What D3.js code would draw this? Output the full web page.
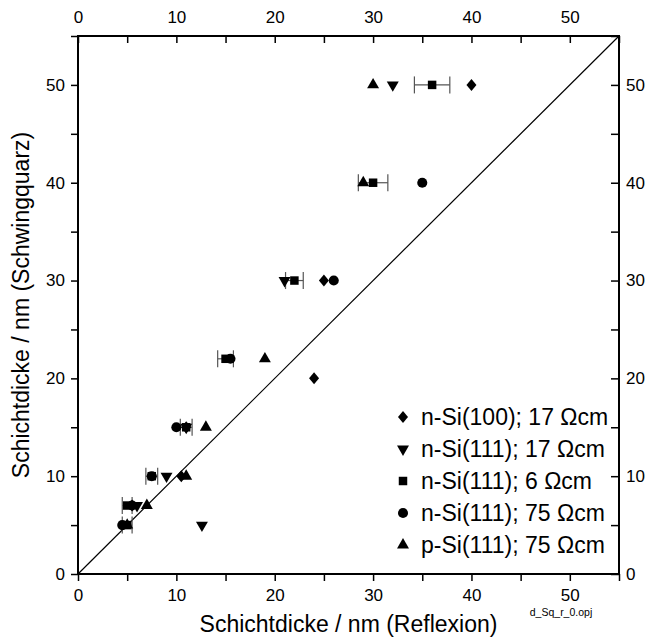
<!DOCTYPE html>
<html>
<head>
<meta charset="utf-8">
<script src="https://cdn.jsdelivr.net/npm/d3@7"></script>
<style>
    body { margin: 0; background: #fff; }
    text { font-family: "Liberation Sans", Arial, sans-serif; fill: #000; }
</style>
</head>
<body>
<svg id="svgSchicht" width="648" height="641"></svg>
<script>

    // x = Reflexion, y = Schwingquarz (nm)
    var diamondX = [40, 25, 24, 11, 10.5, 5.5]
    var diamondY = [50, 30, 20, 15, 10, 7]

    var downX = [32, 21, 11, 9, 6, 12.6]
    var downY = [50, 30, 15, 10, 7, 5]

    var squareX = [36, 30, 22, 15, 11, 7.5, 5, 5]
    var squareY = [50, 40, 30, 22, 15, 10, 7, 5]
    var squareErr = [1.8, 1.5, 0.9, 0.8, 0.6, 0.6, 0.5, 0.5]

    var circleX = [35, 26, 15.5, 10, 7.5, 5.5, 4.5]
    var circleY = [40, 30, 22, 15, 10, 7, 5]

    var upX = [30, 29, 19, 13, 11, 7, 5]
    var upY = [50, 40, 22, 15, 10, 7, 5]

    var legendLabels = ["n-Si(100); 17 \u03A9cm", "n-Si(111); 17 \u03A9cm", "n-Si(111); 6 \u03A9cm",
        "n-Si(111); 75 \u03A9cm", "p-Si(111); 75 \u03A9cm"]

    var tickLabels = [0, 10, 20, 30, 40, 50]
    var tickMarks = d3.range(0, 56, 5)

    var margin = { top: 36, left: 78, bottom: 67, right: 29 }
    var svgWidth = 648
    var svgHeight = 641
    var width = svgWidth - margin.left - margin.right
    var height = svgHeight - margin.top - margin.bottom

    const svg = d3.select("#svgSchicht")

    const X_scale = d3.scaleLinear().domain([0, 55]).range([margin.left, margin.left + width])
    const Y_scale = d3.scaleLinear().domain([0, 55]).range([margin.top + height, margin.top])

    var axisStyle = (g) => {
        g.select(".domain").remove()
        g.selectAll(".tick line").attr("stroke", "#000").attr("stroke-width", 1.5)
        g.selectAll(".tick text").style("font-size", "17px")
    }
    var fmt = (d) => tickLabels.includes(d) ? d : ""

    svg.append("g").attr("transform", `translate(0,${Y_scale(0)})`)
        .call(d3.axisBottom(X_scale).tickValues(tickMarks).tickFormat(fmt).tickSize(7).tickPadding(8))
        .call(axisStyle)
    svg.append("g").attr("transform", `translate(0,${Y_scale(55)})`)
        .call(d3.axisTop(X_scale).tickValues(tickMarks).tickFormat(fmt).tickSize(-7).tickPadding(13))
        .call(axisStyle)
    svg.append("g").attr("transform", `translate(${X_scale(0)},0)`)
        .call(d3.axisLeft(Y_scale).tickValues(tickMarks).tickFormat(fmt).tickSize(7).tickPadding(6))
        .call(axisStyle)
    svg.append("g").attr("transform", `translate(${X_scale(55)},0)`)
        .call(d3.axisRight(Y_scale).tickValues(tickMarks).tickFormat(fmt).tickSize(-8).tickPadding(7))
        .call(axisStyle)

    // frame
    svg.append("rect")
        .attr("x", X_scale(0)).attr("y", Y_scale(55))
        .attr("width", X_scale(55) - X_scale(0)).attr("height", Y_scale(0) - Y_scale(55))
        .attr("fill", "none").attr("stroke", "#000").attr("stroke-width", 2)

    // y = x
    svg.append("line")
        .attr("x1", X_scale(0)).attr("y1", Y_scale(0))
        .attr("x2", X_scale(55)).attr("y2", Y_scale(55))
        .attr("stroke", "#000").attr("stroke-width", 1.2)

    // error bars of the 6 Ohm cm series
    var errG = svg.append("g").attr("stroke", "#555").attr("stroke-width", 1.2)
    squareX.forEach((x, i) => {
        var y = Y_scale(squareY[i])
        var x0 = X_scale(x - squareErr[i]), x1 = X_scale(x + squareErr[i])
        errG.append("line").attr("x1", x0).attr("x2", x1).attr("y1", y).attr("y2", y)
        errG.append("line").attr("x1", x0).attr("x2", x0).attr("y1", y - 8.5).attr("y2", y + 8.5)
        errG.append("line").attr("x1", x1).attr("x2", x1).attr("y1", y - 8.5).attr("y2", y + 8.5)
    })

    // Origin-style diamond: a bit taller than wide
    var originDiamond = {
        draw: function (ctx, size) {
            var w = 5, h = 6
            ctx.moveTo(0, -h); ctx.lineTo(w, 0); ctx.lineTo(0, h); ctx.lineTo(-w, 0); ctx.closePath()
        }
    }

    var sym = {
        diamond: d3.symbol().type(originDiamond).size(1),
        down: d3.symbol().type(d3.symbolTriangle).size(62),
        square: d3.symbol().type(d3.symbolSquare).size(72),
        circle: d3.symbol().type(d3.symbolCircle).size(80),
        up: d3.symbol().type(d3.symbolTriangle).size(62)
    }

    var series = [
        { key: "diamond", xs: diamondX, ys: diamondY, rot: 0 },
        { key: "down", xs: downX, ys: downY, rot: 180 },
        { key: "square", xs: squareX, ys: squareY, rot: 0 },
        { key: "circle", xs: circleX, ys: circleY, rot: 0 },
        { key: "up", xs: upX, ys: upY, rot: 0 }
    ]

    series.forEach((s) => {
        svg.append("g").selectAll("path")
            .data(s.xs.map((x, i) => [x, s.ys[i]]))
            .join("path")
            .attr("d", sym[s.key])
            .attr("fill", "#000")
            .attr("transform", (d) => `translate(${X_scale(d[0])},${Y_scale(d[1])}) rotate(${s.rot})`)
    })

    // legend
    var legend = svg.append("g")
    series.forEach((s, i) => {
        var ly = 417 + i * 32
        legend.append("path").attr("d", sym[s.key]).attr("fill", "#000")
            .attr("transform", `translate(403,${ly}) rotate(${s.rot})`)
        legend.append("text").attr("x", 421).attr("y", ly).attr("dy", "0.36em")
            .style("font-size", "23px").text(legendLabels[i])
    })

    // axis titles
    svg.append("text")
        .attr("x", X_scale(27.5)).attr("y", 632)
        .attr("text-anchor", "middle").style("font-size", "23px")
        .text("Schichtdicke / nm (Reflexion)")
    svg.append("text")
        .attr("transform", `translate(29,${Y_scale(27.5)}) rotate(-90)`)
        .attr("text-anchor", "middle").style("font-size", "23px")
        .text("Schichtdicke / nm (Schwingquarz)")

    svg.append("text")
        .attr("x", 561).attr("y", 616)
        .attr("text-anchor", "middle").style("font-size", "10.5px")
        .text("d_Sq_r_0.opj")

</script>
</body>
</html>
